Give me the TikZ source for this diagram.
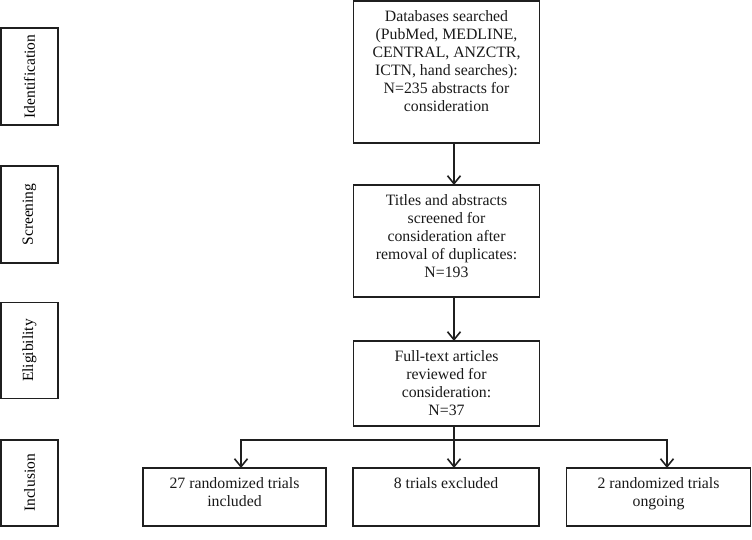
\documentclass[tikz,border=0pt]{standalone}
\usepackage{fontspec}
\setmainfont{Liberation Serif}
\usetikzlibrary{arrows.meta}
\begin{document}
\begin{tikzpicture}[x=1pt,y=-1pt,
  every node/.style={inner sep=0pt, outer sep=0pt},
  boxst/.style={draw=black!88, line width=1.6pt},
  lab/.style={boxst, rotate=90, font=\fontsize{15.5}{18}\selectfont},
  txt/.style={align=center, font=\fontsize{15.8}{18}\selectfont, text=black!90},
  conn/.style={draw=black!88, line width=1.6pt},
  arr/.style={conn, -{Straight Barb[length=8pt,width=13pt,line width=1.6pt]}}]
\useasboundingbox (0,0) rectangle (752,540);
% stage labels
\node[lab, minimum width=97, minimum height=57] (l1) at (29.5,76.5) {Identification};
\node[lab, minimum width=97, minimum height=57] (l2) at (29.5,214.5) {Screening};
\node[lab, minimum width=96, minimum height=57] (l3) at (29.5,350.5) {Eligibility};
\node[lab, minimum width=86, minimum height=57] (l4) at (29.5,483) {Inclusion};
% main boxes
\node[boxst, minimum width=186, minimum height=142] (b1) at (446.5,72) {};
\node[txt, anchor=north] (t1) at ([yshift=-10pt]b1.north) {Databases searched\\(PubMed, MEDLINE,\\CENTRAL, ANZCTR,\\ICTN, hand searches):\\N=235 abstracts for\\consideration};
\node[boxst, minimum width=186, minimum height=112] (b2) at (446.5,241) {};
\node[txt, anchor=north] (t2) at ([yshift=-10pt]b2.north) {Titles and abstracts\\screened for\\consideration after\\removal of duplicates:\\N=193};
\node[boxst, minimum width=186, minimum height=85] (b3) at (446.5,383.5) {};
\node[txt, anchor=north] (t3) at ([yshift=-10pt]b3.north) {Full-text articles\\reviewed for\\consideration:\\N=37};
% bottom boxes
\node[boxst, minimum width=183, minimum height=58] (c1) at (234.5,497) {};
\node[txt, anchor=north] (u1) at ([yshift=-10pt]c1.north) {27 randomized trials\\included};
\node[boxst, minimum width=186, minimum height=58] (c2) at (446,497) {};
\node[txt, anchor=north] (u2) at ([yshift=-10pt]c2.north) {8 trials excluded};
\node[boxst, minimum width=184, minimum height=58] (c3) at (658.5,497) {};
\node[txt, anchor=north] (u3) at ([yshift=-10pt]c3.north) {2 randomized trials\\ongoing};
% connectors
\coordinate (ax) at (454,0);
\coordinate (jl) at (241,440);
\coordinate (jr) at (667,440);
\draw[arr] (b1.south -| ax) -- (b2.north -| ax);
\draw[arr] (b2.south -| ax) -- (b3.north -| ax);
\draw[arr] (b3.south -| ax) -- (c2.north -| ax);
\draw[arr] (ax |- jl) -- (jl) -- (jl |- c1.north);
\draw[arr] (ax |- jr) -- (jr) -- (jr |- c3.north);
\end{tikzpicture}
\end{document}
